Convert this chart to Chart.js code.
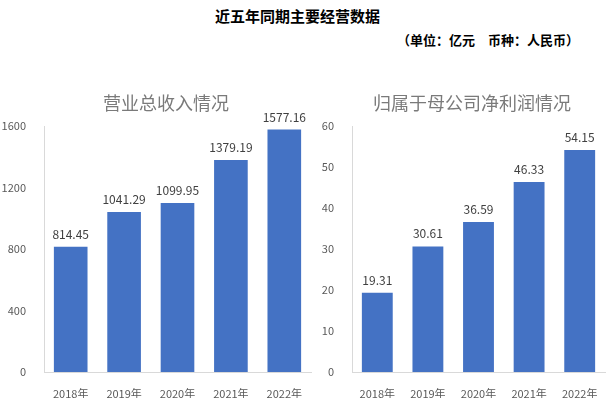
<!DOCTYPE html>
<html>
<head>
<meta charset="utf-8">
<script src="https://cdn.jsdelivr.net/npm/chart.js@4.4.0/dist/chart.umd.min.js"></script>
<style>
  body { margin: 0; width: 610px; height: 398px; background: #fff; position: relative; overflow: hidden;
         font-family: "Noto Sans CJK SC", sans-serif; }
  #head { position: absolute; top: 5px; left: 215px; font-size: 15px; font-weight: bold; color: #000; white-space: pre; }
  #unit { position: absolute; top: 30px; left: 397px; font-size: 13px; font-weight: bold; color: #000; white-space: pre; }
  .tit { position: absolute; top: 89px; font-size: 18px; color: #7a7a7a; white-space: pre; }
  #t1 { left: 103px; }
  #t2 { left: 373px; }
  #c1 { position: absolute; left: 0; top: 85px; }
  #c2 { position: absolute; left: 305px; top: 85px; }
</style>
</head>
<body>
<div id="head">近五年同期主要经营数据</div>
<div id="unit">（单位：亿元　币种：人民币）</div>
<canvas id="c1" width="316" height="313"></canvas>
<canvas id="c2" width="305" height="313"></canvas>
<div class="tit" id="t1">营业总收入情况</div>
<div class="tit" id="t2">归属于母公司净利润情况</div>
<script>
// dados
var anos = ["2018年", "2019年", "2020年", "2021年", "2022年"];
var receita = [814.45, 1041.29, 1099.95, 1379.19, 1577.16];
var lucro = [19.31, 30.61, 36.59, 46.33, 54.15];

var fonte = '"Noto Sans CJK SC", sans-serif';

// escreve o valor em cima de cada barra
var rotulos = {
    id: 'rotulos',
    afterDatasetsDraw: function (chart) {
        var ctx = chart.ctx;
        var ds = chart.data.datasets[0];
        ctx.save();
        ctx.font = '12px ' + fonte;
        ctx.fillStyle = '#404040';
        ctx.textAlign = 'center';
        ctx.textBaseline = 'alphabetic';
        chart.getDatasetMeta(0).data.forEach(function (bar, i) {
            ctx.fillText(ds.data[i].toFixed(2), bar.x, bar.y - 8);
        });
        ctx.restore();
    }
};

function montaGrafico(id, valores, maximo, passo, larguraY, pctBarra) {
    var ctx = document.getElementById(id).getContext('2d');
    return new Chart(ctx, {
        type: 'bar',
        data: {
            labels: anos,
            datasets: [{
                data: valores,
                backgroundColor: '#4472C4',
                categoryPercentage: 1,
                barPercentage: pctBarra
            }]
        },
        options: {
            responsive: false,
            animation: false,
            layout: { padding: { left: 0, right: 5, top: 41, bottom: 0 } },
            plugins: {
                legend: { display: false },
                tooltip: { enabled: false }
            },
            scales: {
                x: {
                    grid: { display: false },
                    border: { display: true, color: '#d9d9d9' },
                    ticks: { color: '#595959', font: { family: fonte, size: 11 }, padding: 7 },
                    afterFit: function (s) { s.height = 26; }
                },
                y: {
                    min: 0,
                    max: maximo,
                    grid: { display: false },
                    border: { display: true, color: '#d9d9d9' },
                    ticks: {
                        stepSize: passo, color: '#595959', font: { family: fonte, size: 11 }, padding: 10,
                        callback: function (v) { return String(v); }
                    },
                    afterFit: function (s) { s.width = larguraY; }
                }
            }
        },
        plugins: [rotulos]
    });
}

montaGrafico('c1', receita, 1600, 400, 44, 0.63);
montaGrafico('c2', lucro, 60, 10, 47, 0.61);
</script>
</body>
</html>
